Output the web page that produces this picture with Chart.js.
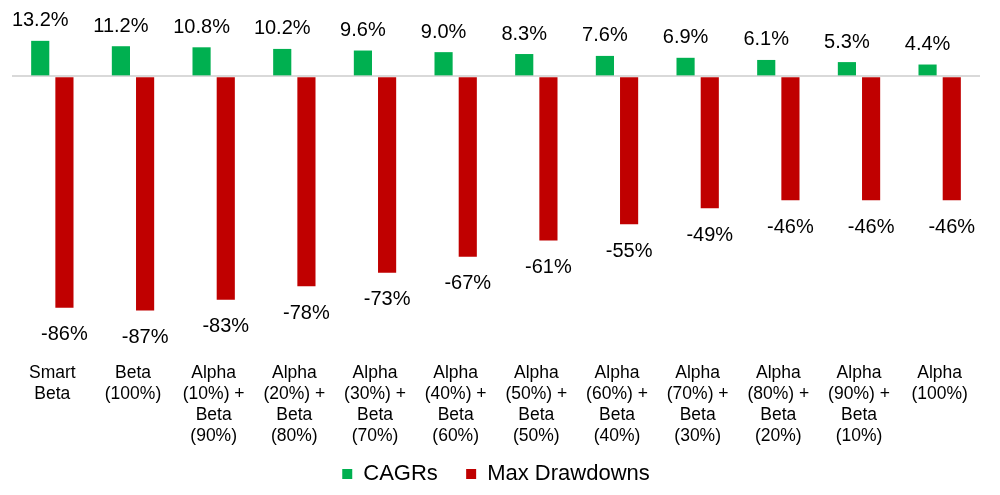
<!DOCTYPE html>
<html lang="en">
<head>
  <meta charset="UTF-8" />
  <title>CAGRs vs Max Drawdowns</title>
  <script src="https://cdn.jsdelivr.net/npm/chart.js"></script>
  <style>
    body {
      margin: 0;
      background: #ffffff;
      font-family: 'Liberation Sans', Arial, sans-serif;
    }

    .chart-box {
      width: 1000px;
      height: 495px;
      position: relative;
    }
  </style>
</head>
<body>
  <div class="chart-box"><canvas id="mixChart"></canvas></div>

  <script>
    const categories = [
      ['Smart', 'Beta'],
      ['Beta', '(100%)'],
      ['Alpha', '(10%) +', 'Beta', '(90%)'],
      ['Alpha', '(20%) +', 'Beta', '(80%)'],
      ['Alpha', '(30%) +', 'Beta', '(70%)'],
      ['Alpha', '(40%) +', 'Beta', '(60%)'],
      ['Alpha', '(50%) +', 'Beta', '(50%)'],
      ['Alpha', '(60%) +', 'Beta', '(40%)'],
      ['Alpha', '(70%) +', 'Beta', '(30%)'],
      ['Alpha', '(80%) +', 'Beta', '(20%)'],
      ['Alpha', '(90%) +', 'Beta', '(10%)'],
      ['Alpha', '(100%)']
    ];
    const cagrs = [13.2, 11.2, 10.8, 10.2, 9.6, 9.0, 8.3, 7.6, 6.9, 6.1, 5.3, 4.4];
    const maxDrawdowns = [-86, -87, -83, -78, -73, -67, -61, -55, -49, -46, -46, -46];

    const FONT = "'Liberation Sans', Arial, sans-serif";

    // value labels above / below each bar
    const valueLabels = {
      id: 'valueLabels',
      afterDatasetsDraw(chart) {
        const ctx = chart.ctx;
        ctx.save();
        ctx.font = '20px ' + FONT;
        ctx.fillStyle = '#000000';
        ctx.textAlign = 'center';
        ctx.textBaseline = 'middle';
        chart.data.datasets.forEach((ds, i) => {
          chart.getDatasetMeta(i).data.forEach((bar, j) => {
            const v = ds.data[j];
            const txt = (i === 0 ? v.toFixed(1) : v.toFixed(0)) + '%';
            const y = v >= 0 ? bar.y - 20 : bar.y + 27;
            ctx.fillText(txt, bar.x, y);
          });
        });
        ctx.restore();
      }
    };

    new Chart(document.getElementById('mixChart'), {
      type: 'bar',
      data: {
        labels: categories,
        datasets: [
          {
            label: 'CAGRs',
            data: cagrs,
            backgroundColor: '#00b050',
            categoryPercentage: 0.6,
            barPercentage: 0.75
          },
          {
            label: 'Max Drawdowns',
            data: maxDrawdowns,
            backgroundColor: '#c00000',
            categoryPercentage: 0.6,
            barPercentage: 0.75
          }
        ]
      },
      options: {
        responsive: true,
        maintainAspectRatio: false,
        animation: false,
        layout: { padding: { top: 36, left: 12, right: 20, bottom: 0 } },
        plugins: {
          tooltip: { enabled: false },
          legend: {
            position: 'bottom',
            labels: {
              boxWidth: 10,
              boxHeight: 10,
              padding: 10,
              color: '#000000',
              font: { family: FONT, size: 22 },
              generateLabels(chart) {
                const items = Chart.defaults.plugins.legend.labels.generateLabels(chart);
                items[0].text = items[0].text + '   ';
                return items;
              }
            }
          }
        },
        scales: {
          x: {
            grid: {
              display: true,
              drawOnChartArea: false,
              drawTicks: true,
              tickLength: 25,
              color: 'rgba(0,0,0,0)'
            },
            border: { display: false },
            ticks: {
              color: '#000000',
              autoSkip: false,
              maxRotation: 0,
              padding: 6,
              font: { family: FONT, size: 17.5 }
            }
          },
          y: {
            display: true,
            min: -95,
            max: 15,
            border: { display: false },
            ticks: { display: false },
            grid: {
              drawTicks: false,
              lineWidth: 2,
              color: c => c.tick.value === 0 ? '#d9d9d9' : 'rgba(0,0,0,0)'
            }
          }
        }
      },
      plugins: [valueLabels]
    });
  </script>
</body>
</html>
